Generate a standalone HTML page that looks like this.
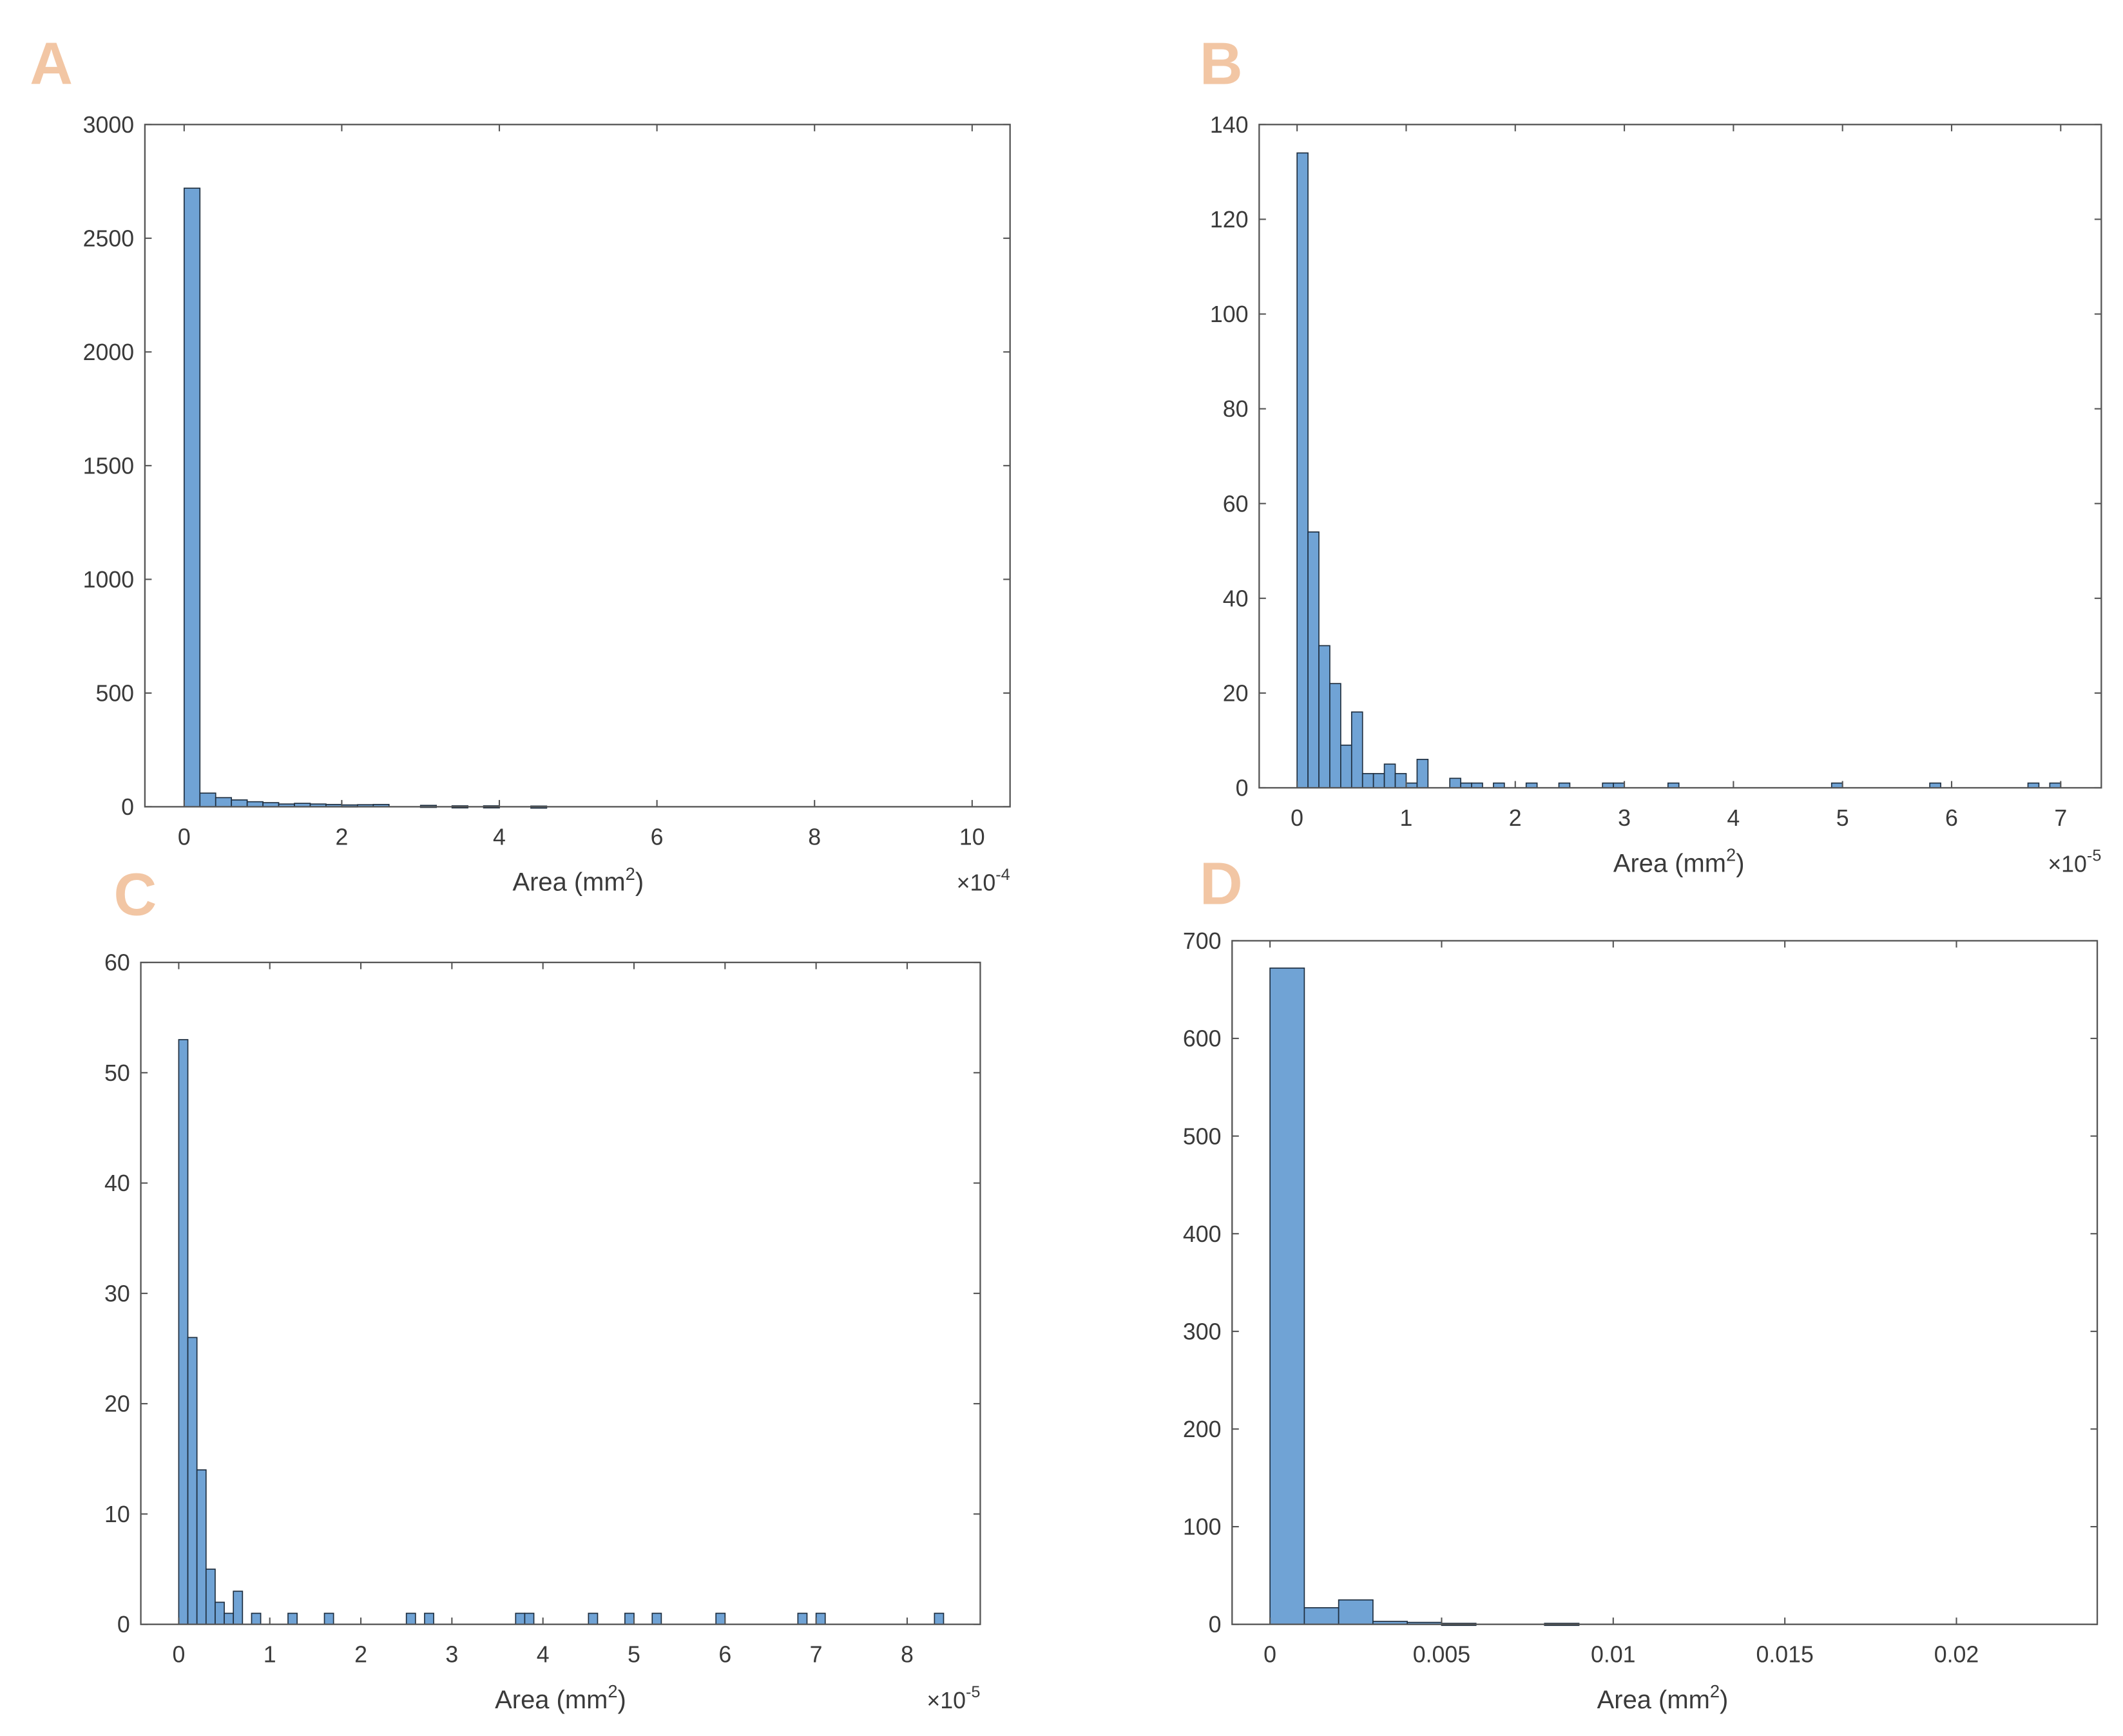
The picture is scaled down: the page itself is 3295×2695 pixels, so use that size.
<!DOCTYPE html>
<html><head><meta charset="utf-8"><style>
html,body{margin:0;padding:0;background:#fff;}
svg{display:block;}
text{font-family:"Liberation Sans",sans-serif;fill:#3a3a3a;}
</style></head><body>
<svg id="fig" width="3295" height="2695" viewBox="0 0 1568 1282.5" xmlns="http://www.w3.org/2000/svg">
<rect width="1568" height="1282.5" fill="#fff"/>
</svg>
<script>
// Panel A data (x in units of 1e-4 mm^2)
const aBinStarts = [0,0.2,0.4,0.6,0.8,1.0,1.2,1.4,1.6,1.8,2.0,2.2,2.4,3.0,3.4,3.8,4.4];
const aCounts = [2720,60,40,30,22,18,12,15,12,10,8,9,10,6,4,4,3];
const aYTicks = [0,500,1000,1500,2000,2500,3000];
const aXTicks = [0,2,4,6,8,10];
// Panel B data (x in units of 1e-5 mm^2)
const bBinStarts = [0,0.1,0.2,0.3,0.4,0.5,0.6,0.7,0.8,0.9,1.0,1.1,1.4,1.5,1.6,1.8,2.1,2.4,2.8,2.9,3.4,4.9,5.8,6.7,6.9];
const bCounts = [134,54,30,22,9,16,3,3,5,3,1,6,2,1,1,1,1,1,1,1,1,1,1,1,1];
const bYTicks = [0,20,40,60,80,100,120,140];
const bXTicks = [0,1,2,3,4,5,6,7];
// Panel C data (x in units of 1e-5 mm^2)
const cBinStarts = [0,0.1,0.2,0.3,0.4,0.5,0.6,0.8,1.2,1.6,2.5,2.7,3.7,3.8,4.5,4.9,5.2,5.9,6.8,7.0,8.3];
const cCounts = [53,26,14,5,2,1,3,1,1,1,1,1,1,1,1,1,1,1,1,1,1];
const cYTicks = [0,10,20,30,40,50,60];
const cXTicks = [0,1,2,3,4,5,6,7,8];
// Panel D data (x in mm^2)
const dBinStarts = [0,0.001,0.002,0.003,0.004,0.005,0.008];
const dCounts = [672,17,25,3,2,1,1];
const dYTicks = [0,100,200,300,400,500,600,700];
const dXTicks = [0,0.005,0.01,0.015,0.02];
const dXTickLabels = ["0","0.005","0.01","0.015","0.02"];

const NS="http://www.w3.org/2000/svg";
const svg=document.getElementById('fig');
function mk(tag,attrs,parent){const e=document.createElementNS(NS,tag);for(const k in attrs)e.setAttribute(k,attrs[k]);(parent||svg).appendChild(e);return e;}

function panel(cfg){
  const g=mk('g',{});
  
  
  const sx=v=>cfg.x0px+(v-cfg.x0)*(cfg.x1px-cfg.x0px)/(cfg.x1-cfg.x0);
  const sy=v=>cfg.bottom-(v-cfg.ymin)*(cfg.bottom-cfg.top)/(cfg.ymax-cfg.ymin);
  // letter
  const L=mk('text',{x:cfg.lx,y:cfg.ly,'font-size':44,'font-weight':'bold',style:'fill:#f2c6a4'},g);
  L.textContent=cfg.id.toUpperCase();
  
  
  // bars
  cfg.starts.forEach((s,i)=>{
    const x=sx(s),w=sx(s+cfg.bw)-x,y=sy(cfg.counts[i]);
    const r=mk('rect',{x:x,y:y,width:w,height:Math.max(cfg.bottom-y,1.5),fill:'#70a3d5',stroke:'#1f2f40','stroke-width':0.8},g);
    
    
  });
  // box
  const b=mk('rect',{x:cfg.left,y:cfg.top,width:cfg.right-cfg.left,height:cfg.bottom-cfg.top,fill:'none',stroke:'#555','stroke-width':1.1},g);
  
  
  // y ticks
  cfg.yticks.forEach(v=>{
    const y=sy(v);
    mk('line',{x1:cfg.left,x2:cfg.left+5,y1:y,y2:y,stroke:'#555','stroke-width':1},g);
    mk('line',{x1:cfg.right,x2:cfg.right-5,y1:y,y2:y,stroke:'#555','stroke-width':1},g);
    const t=mk('text',{x:cfg.left-8,y:y+6,'font-size':17,'text-anchor':'end'},g);
    t.textContent=String(v);
    
    
  });
  cfg.xticks.forEach((v,i)=>{
    const x=sx(v);
    mk('line',{x1:x,x2:x,y1:cfg.bottom,y2:cfg.bottom-5,stroke:'#555','stroke-width':1},g);
    mk('line',{x1:x,x2:x,y1:cfg.top,y2:cfg.top+5,stroke:'#555','stroke-width':1},g);
    const t=mk('text',{x:x,y:cfg.bottom+28,'font-size':17,'text-anchor':'middle'},g);
    t.textContent=cfg.xlabels?cfg.xlabels[i]:String(v);
    
    
  });
  const xl=mk('text',{x:cfg.xlx,y:cfg.bottom+62,'font-size':19,'text-anchor':'middle'},g);
  xl.innerHTML='Area (mm<tspan dy="-8" font-size="13">2</tspan><tspan dy="8">)</tspan>';
  
  
  if(cfg.exp){
    const ex=mk('text',{x:cfg.right,y:cfg.bottom+62,'font-size':17,'text-anchor':'end'},g);
    ex.innerHTML='×10<tspan dy="-8" font-size="12">'+cfg.exp+'</tspan>';
    
    
  }
}
panel({id:'a',left:107,right:746,top:92,bottom:596,x0:0,x1:10,x0px:136,x1px:718,ymin:0,ymax:3000,bw:0.2,starts:aBinStarts,counts:aCounts,yticks:aYTicks,xticks:aXTicks,xlx:427,exp:'-4',lx:22,ly:62});
panel({id:'b',left:930,right:1552,top:92,bottom:582,x0:0,x1:7,x0px:958,x1px:1522,ymin:0,ymax:140,bw:0.1,starts:bBinStarts,counts:bCounts,yticks:bYTicks,xticks:bXTicks,xlx:1240,exp:'-5',lx:886,ly:62});
panel({id:'c',left:104,right:724,top:711,bottom:1200,x0:0,x1:8,x0px:132,x1px:670,ymin:0,ymax:60,bw:0.1,starts:cBinStarts,counts:cCounts,yticks:cYTicks,xticks:cXTicks,xlx:414,exp:'-5',lx:84,ly:676});
panel({id:'d',left:910,right:1549,top:695,bottom:1200,x0:0,x1:0.02,x0px:938,x1px:1445,ymin:0,ymax:700,bw:0.001,starts:dBinStarts,counts:dCounts,yticks:dYTicks,xticks:dXTicks,xlabels:dXTickLabels,xlx:1228,exp:null,lx:886,ly:668});
</script>
</body></html>
